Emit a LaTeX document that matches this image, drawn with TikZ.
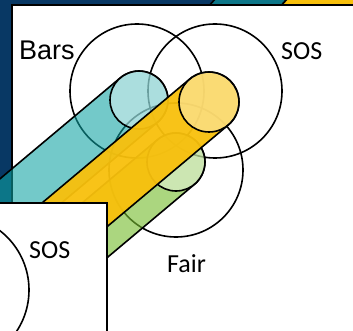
\documentclass[tikz,border=0pt]{standalone}
\usepackage{fontspec}
\setmainfont{Carlito}
\newfontfamily\barsfont{Liberation Sans}
\usepackage{xcolor}
\definecolor{icNavy}{HTML}{083864}
\definecolor{icTeal}{HTML}{0FA3A3}
\definecolor{icYellow}{HTML}{F8C00C}
\definecolor{icGreen}{HTML}{78BE32}
\tikzset{
    icPanel/.style={draw=black, line width=1.6pt, fill=white},
    icRing/.style={circle, draw=black, line width=1.6pt, minimum size=134pt, inner sep=0pt},
    icCap/.style={circle, draw=black, line width=1.6pt, fill=white, fill opacity=0.4, inner sep=0pt},
    icTealBand/.style={draw=black, line width=1.6pt, fill=icTeal, fill opacity=0.58},
    icYellowBand/.style={draw=black, line width=1.6pt, fill=icYellow, fill opacity=0.95},
    icGreenBand/.style={draw=black, line width=1.6pt, fill=icGreen, fill opacity=0.62},
    icLabel/.style={inner sep=0pt, anchor=base west, font=\fontsize{26pt}{26pt}\selectfont}
}
% band with round cap: centre, half width, style
\newcommand{\icband}[3]{%
    \begin{scope}[shift={#1}, rotate=220]
        \path[#3] (0,-#2) -- (430,-#2) -- (430,#2) -- (0,#2)
            arc[start angle=90, end angle=270, radius=#2] -- cycle;
    \end{scope}}

\begin{document}
\begin{tikzpicture}[x=1pt, y=-1pt]
    \useasboundingbox (0,0) rectangle (353,331);
    \clip (0,0) rectangle (353,331);

    % Background
    \fill[icNavy] (-5,-5) rectangle (360,340);
    \path[icTealBand] (216,-2) -- (288,-2) -- (280,7) -- (208,7) -- cycle;
    \path[draw=black, line width=1.6pt, fill=icYellow] (288,-2) -- (360,-2) -- (360,7) -- (280,7) -- cycle;

    % Main panel
    \path[icPanel] (12,5) rectangle (370,345);

    % Big rings
    \node[icRing] (ringBars) at (137,91) {};
    \node[icRing] (ringSos) at (215,91) {};
    \node[icRing] (ringFair) at (176,170) {};

    % Bands and caps
    \icband{(176,162)}{29}{icGreenBand}
    \node[icCap, minimum size=58pt] (capGreen) at (176,162) {};
    \icband{(139,100)}{29}{icTealBand}
    \node[icCap, minimum size=58pt] (capTeal) at (139,100) {};
    \icband{(209,102)}{30}{icYellowBand}
    \node[icCap, minimum size=60pt] (capYellow) at (209,102) {};

    % Lower left panel
    \path[icPanel] (-10,203) rectangle (107,345);
    \node[icRing, minimum size=150pt] (ringLow) at (-46,290) {};

    % Labels
    \node[icLabel, font=\barsfont\fontsize{27pt}{27pt}\selectfont] (labelBars) at (19,60) {Bars};
    \node[icLabel] (labelSosTop) at (281,60) {SOS};
    \node[icLabel] (labelSosLow) at (29,258) {SOS};
    \node[icLabel] (labelFair) at (167,272) {Fair};
\end{tikzpicture}
\end{document}
